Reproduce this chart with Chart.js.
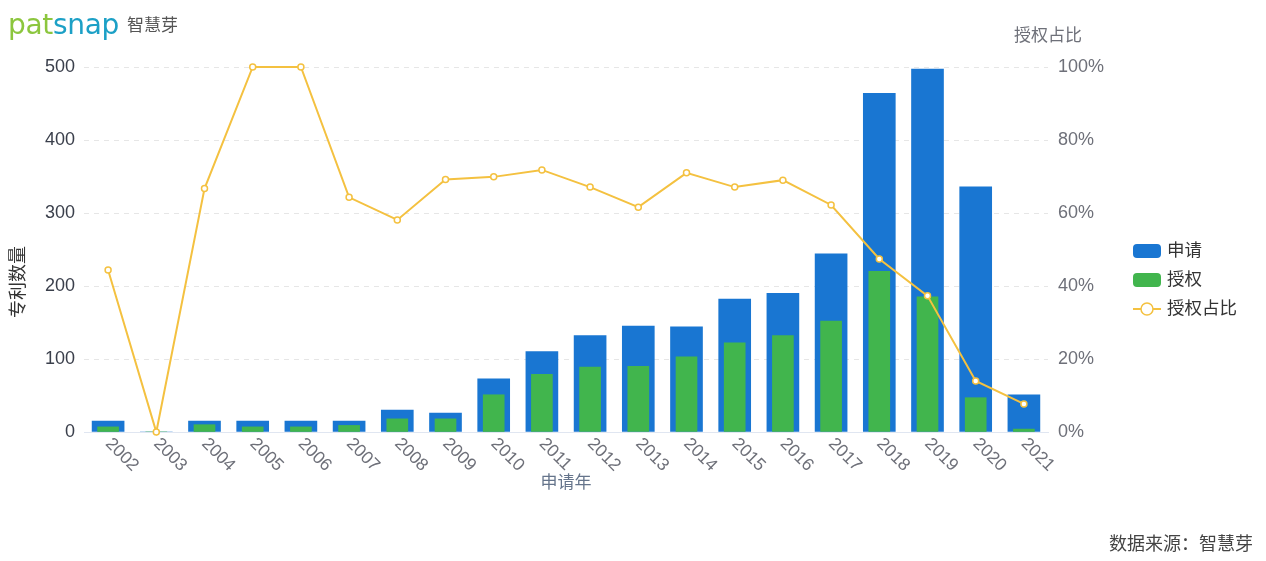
<!DOCTYPE html>
<html>
<head>
<meta charset="utf-8">
<script src="https://cdn.jsdelivr.net/npm/chart.js@4/dist/chart.umd.min.js"></script>
<style>
html,body{margin:0;padding:0;background:#fff;}
#wrap{position:relative;width:1266px;height:561px;overflow:hidden;}
#c{position:absolute;left:0;top:0;}
#logo{position:absolute;left:8px;top:8px;white-space:nowrap;font-family:"DejaVu Sans",sans-serif;font-size:28px;line-height:32px;letter-spacing:-0.3px;}
#logo .pat{color:#8cc63e;}
#logo .snap{color:#1ca0c6;}
#logo .cn{font-family:"Noto Sans CJK SC",sans-serif;font-size:17px;color:#555;margin-left:8px;vertical-align:3px;letter-spacing:0;}
#src{position:absolute;left:1109px;top:530px;font-family:"Noto Sans CJK SC",sans-serif;font-size:18px;line-height:24px;color:#444;white-space:nowrap;}
</style>
</head>
<body>
<div id="wrap">
<canvas id="c" width="1266" height="561"></canvas>
<div id="logo"><span class="pat">pat</span><span class="snap">snap</span><span class="cn">智慧芽</span></div>
<div id="src">数据来源：智慧芽</div>
</div>
<script>
// ---- data ----
const years = ["2002","2003","2004","2005","2006","2007","2008","2009","2010","2011","2012","2013","2014","2015","2016","2017","2018","2019","2020","2021"];
const applications = [15,0,15,15,15,15,30,26,73,110,132,145,144,182,190,244,464,497,336,51];
const grants = [7,0,10,7,7,9,18,18,51,79,89,90,103,122,132,152,220,185,47,4];
const grantRatio = [44.4,0,66.7,100,100,64.3,58.1,69.2,69.9,71.8,67.1,61.6,71.0,67.1,69.0,62.2,47.4,37.3,14.0,7.7];
const countMax = 500, countStep = 100;
const ratioMax = 100, ratioStep = 20;
const seriesNames = ["申请","授权","授权占比"];
const xTitle = "申请年", leftTitle = "专利数量", rightTitle = "授权占比";

const BLUE = '#1976d2', GREEN = '#41b54d', GOLD = '#f4c140';
const FONT = '"Liberation Sans", Arial, "Noto Sans CJK SC", sans-serif';

const overlay = {
  id: 'overlay',
  afterDraw(chart) {
    const ctx = chart.ctx, xs = chart.scales.x, a = chart.chartArea;
    ctx.save();
    // x labels rotated
    ctx.font = '17.5px ' + FONT;
    ctx.fillStyle = '#6e7079';
    ctx.textAlign = 'left';
    ctx.textBaseline = 'middle';
    years.forEach((y, i) => {
      const px = xs.getPixelForValue(i);
      ctx.save();
      ctx.translate(px, a.bottom + 9);
      ctx.rotate(Math.PI / 4);
      ctx.fillText(y, 0, 0);
      ctx.restore();
    });
    // x title
    ctx.font = '17px ' + FONT;
    ctx.fillStyle = '#65748b';
    ctx.textAlign = 'center';
    ctx.fillText(xTitle, (a.left + a.right) / 2, 483);
    // right title
    ctx.fillStyle = '#6e7079';
    ctx.fillText(rightTitle, a.right, 36);
    // left title
    ctx.save();
    ctx.font = '18px ' + FONT;
    ctx.fillStyle = '#333';
    ctx.translate(19, 282);
    ctx.rotate(-Math.PI / 2);
    ctx.fillText(leftTitle, 0, 0);
    ctx.restore();
    // legend
    const lx = 1133, ly = [251, 280, 309];
    const rr = (x, y, w, h, r) => {
      ctx.beginPath();
      ctx.moveTo(x + r, y);
      ctx.arcTo(x + w, y, x + w, y + h, r);
      ctx.arcTo(x + w, y + h, x, y + h, r);
      ctx.arcTo(x, y + h, x, y, r);
      ctx.arcTo(x, y, x + w, y, r);
      ctx.closePath();
    };
    ctx.fillStyle = BLUE; rr(lx, ly[0] - 7, 28, 14, 4); ctx.fill();
    ctx.fillStyle = GREEN; rr(lx, ly[1] - 7, 28, 14, 4); ctx.fill();
    ctx.strokeStyle = GOLD; ctx.lineWidth = 2;
    ctx.beginPath(); ctx.moveTo(lx, ly[2]); ctx.lineTo(lx + 28, ly[2]); ctx.stroke();
    ctx.beginPath(); ctx.arc(lx + 14, ly[2], 6, 0, Math.PI * 2);
    ctx.fillStyle = '#fff'; ctx.fill(); ctx.lineWidth = 1.5; ctx.stroke();
    ctx.font = '17.5px ' + FONT;
    ctx.fillStyle = '#333';
    ctx.textAlign = 'left';
    seriesNames.forEach((n, i) => ctx.fillText(n, lx + 34, ly[i]));
    ctx.restore();
  }
};

new Chart(document.getElementById('c'), {
  data: {
    labels: years,
    datasets: [
      { type: 'bar', label: seriesNames[0], data: applications, backgroundColor: BLUE, barThickness: 32, grouped: false, yAxisID: 'y', order: 2 },
      { type: 'bar', label: seriesNames[1], data: grants, backgroundColor: GREEN, barThickness: 21, grouped: false, yAxisID: 'y', order: 1 },
      { type: 'line', label: seriesNames[2], data: grantRatio, borderColor: GOLD, borderWidth: 2, tension: 0, clip: false,
        pointRadius: 3, pointBackgroundColor: '#fff', pointBorderColor: GOLD, pointBorderWidth: 1.5, yAxisID: 'y1', order: 0 }
    ]
  },
  options: {
    responsive: false,
    devicePixelRatio: 1,
    animation: false,
    layout: { padding: { top: 67, left: 0, right: 0, bottom: 0 } },
    plugins: { legend: { display: false }, tooltip: { enabled: false } },
    scales: {
      x: {
        type: 'category',
        offset: true,
        grid: { display: false, drawTicks: false },
        border: { display: true, color: '#e0e6f1', width: 1 },
        ticks: { display: false },
        afterFit(s) { s.height = 561 - 432; }
      },
      y: {
        position: 'left',
        min: 0, max: countMax,
        ticks: { stepSize: countStep, padding: 9, color: '#3a3f4b', font: { size: 18, family: FONT } },
        grid: { color: '#e6e6e6', drawTicks: false, lineWidth: 1 },
        border: { display: false, dash: [5, 5] },
        afterFit(s) { s.width = 84; }
      },
      y1: {
        position: 'right',
        min: 0, max: ratioMax,
        ticks: { stepSize: ratioStep, padding: 10, color: '#6e7079', font: { size: 18, family: FONT }, callback: v => v + '%' },
        grid: { display: false, drawTicks: false },
        border: { display: false },
        afterFit(s) { s.width = 1266 - 1048; }
      }
    }
  },
  plugins: [overlay]
});
</script>
</body>
</html>
